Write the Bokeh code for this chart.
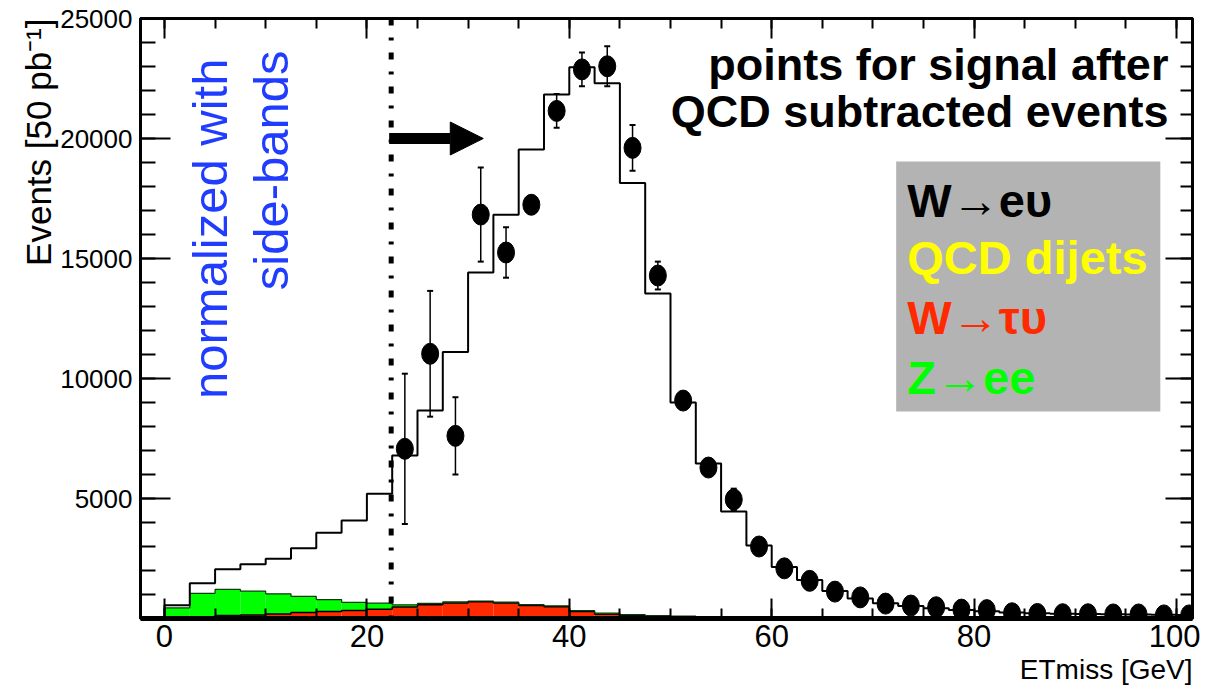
import math
import numpy as np
from bokeh.plotting import figure
from bokeh.models import (Label, Span, Arrow, NormalHead, BoxAnnotation, Whisker, TeeHead,
                          ColumnDataSource, SingleIntervalTicker, LinearAxis, Title)
from bokeh.embed import file_html
from bokeh.resources import INLINE

# ---------------- data ----------------
bin_width = 2.5
bin_edges = np.arange(0, 102.5 + 0.01, bin_width)  # 0 ... 102.5 (41 bins)

# total MC stack (black outline)
total_mc = [550, 1470, 2050, 2260, 2490, 2930, 3570, 4080, 5200, 6790,
            8670, 11100, 14420, 16820, 19540, 21830, 22970, 22300, 18150, 13540,
            9000, 6460, 4460, 3040, 2150, 1600, 1150, 830, 640, 520,
            430, 350, 300, 250, 220, 200, 190, 180, 170, 160, 150]
# W -> tau nu (red, bottom of stack)
w_taunu = [30, 60, 120, 150, 190, 250, 290, 330, 390, 480,
           570, 650, 700, 650, 540, 490, 290, 180, 130, 90,
           70, 50, 35, 25, 15, 10, 8, 6, 5, 4,
           3, 2, 2, 1, 1, 1, 0, 0, 0, 0, 0]
# Z -> ee (green, stacked on red)
z_ee = [410, 990, 1090, 990, 840, 670, 500, 340, 250, 90,
        60, 40, 30, 30, 40, 40, 40, 40, 30, 30,
        25, 20, 20, 15, 15, 10, 10, 8, 6, 5,
        4, 3, 2, 2, 1, 1, 0, 0, 0, 0, 0]

# data points (QCD-subtracted signal)
pt_x = [23.75, 26.25, 28.75, 31.25, 33.75, 36.25, 38.75, 41.25, 43.75, 46.25,
        48.75, 51.25, 53.75, 56.25, 58.75, 61.25, 63.75, 66.25, 68.75, 71.25,
        73.75, 76.25, 78.75, 81.25, 83.75, 86.25, 88.75, 91.25, 93.75, 96.25,
        98.75, 101.25]
pt_y = [7070, 11030, 7610, 16830, 15250, 17240, 21150, 22880, 23010, 19610,
        14290, 9080, 6290, 4960, 3000, 2090, 1570, 1120, 880, 620,
        540, 470, 370, 350, 220, 190, 180, 180, 170, 170,
        130, 130]
pt_err = [3130, 2620, 1610, 1960, 1050, 300, 700, 700, 830, 950,
          580, 250, 200, 450, 150, 120, 100, 80, 60, 50,
          40, 40, 40, 40, 30, 30, 30, 30, 30, 30,
          30, 30]

x_ticks_major = 20
y_ticks_major = 5000
cut_position = 22.4

legend_entries = ["W\u2192e\u03c5", "QCD dijets", "W\u2192\u03c4\u03c5", "Z\u2192ee"]
legend_colors = ["black", "#ffff00", "#ff2a00", "#00ff00"]

RED = "#ff2a00"
GREEN = "#00ff00"
BLUE = "#1f3cff"
FONT = "Liberation Sans"

# ---------------- figure ----------------
p = figure(frame_width=1052, frame_height=600, x_range=(-2.37, 101.58), y_range=(0, 25000),
           output_backend="svg", toolbar_location=None,
           min_border_left=140, min_border_right=8, min_border_top=18, min_border_bottom=60)
p.grid.visible = False
p.outline_line_color = "black"
p.outline_line_width = 3
p.background_fill_color = "white"
p.border_fill_color = "white"

def style_axis(ax, ticker, show_labels, maj_len, min_len, lw, tick_values=()):
    ax.ticker = ticker
    ax.major_tick_in = maj_len
    ax.major_tick_out = 0
    ax.minor_tick_in = min_len
    ax.minor_tick_out = 0
    ax.major_tick_line_width = 2
    ax.minor_tick_line_width = 2
    ax.major_tick_line_color = "black"
    ax.minor_tick_line_color = "black"
    ax.axis_line_width = lw
    ax.axis_line_color = "black"
    if not show_labels:
        ax.major_label_overrides = {v: "" for v in tick_values}
        ax.major_label_text_color = None
        ax.major_label_standoff = 0

xt = SingleIntervalTicker(interval=x_ticks_major, num_minor_ticks=4)
yt = SingleIntervalTicker(interval=y_ticks_major, num_minor_ticks=5)

style_axis(p.xaxis[0], xt, True, 20, 10, 5)
p.xaxis[0].major_label_text_font = FONT
p.xaxis[0].major_label_text_font_size = "31px"
p.xaxis[0].major_label_standoff = 6
p.xaxis[0].major_label_text_color = "black"

style_axis(p.yaxis[0], yt, True, 30, 15, 3)
p.yaxis[0].major_label_text_font = FONT
p.yaxis[0].major_label_text_font_size = "26px"
p.yaxis[0].major_label_standoff = 8
p.yaxis[0].major_label_overrides = {0: ""}
p.yaxis[0].major_label_text_color = "black"

top_ax = LinearAxis()
style_axis(top_ax, SingleIntervalTicker(interval=x_ticks_major, num_minor_ticks=4), False,
           20, 10, 3, tick_values=[-20, 0, 20, 40, 60, 80, 100, 120])
p.add_layout(top_ax, "above")
right_ax = LinearAxis()
style_axis(right_ax, SingleIntervalTicker(interval=y_ticks_major, num_minor_ticks=5), False,
           27, 12, 3, tick_values=[0, 5000, 10000, 15000, 20000, 25000, 30000])
p.add_layout(right_ax, "right")

# axis titles (placed at the far ends, like ROOT)
p.add_layout(Title(text="Events [50 pb\u207b\u00b9]", align="right", text_font=FONT,
                   text_font_size="35px", text_font_style="normal", text_color="black",
                   standoff=0, offset=0), "left")
p.add_layout(Title(text="ETmiss [GeV]", align="right", text_font=FONT,
                   text_font_size="28px", text_font_style="normal", text_color="black",
                   standoff=4, offset=0), "below")

# ---------------- stacked histograms ----------------
lefts = bin_edges[:-1]
rights = bin_edges[1:]
red = np.array(w_taunu, dtype=float)
green_top = red + np.array(z_ee, dtype=float)
p.quad(left=lefts, right=rights, bottom=0, top=red, fill_color=RED, line_color=None)
p.quad(left=lefts, right=rights, bottom=red, top=green_top, fill_color=GREEN, line_color=None)

def step_xy(edges, vals):
    xs = [edges[0]]
    ys = [0]
    for i, v in enumerate(vals):
        xs += [edges[i], edges[i + 1]]
        ys += [v, v]
    return xs, ys

sx, sy = step_xy(bin_edges, red)
p.line(sx, sy, line_color="black", line_width=1.5)
sx, sy = step_xy(bin_edges, green_top)
p.line(sx, sy, line_color="#0a3a0a", line_width=1.2)
sx, sy = step_xy(bin_edges, total_mc)
p.line(sx, sy, line_color="black", line_width=2)

# cut line
p.add_layout(Span(location=cut_position, dimension="height", line_color="black",
                  line_width=5, line_dash="7 12 3 12"))

# arrow
p.add_layout(Arrow(end=NormalHead(size=33, fill_color="black", line_color="black"),
                   x_start=22.2, y_start=20000, x_end=31.5, y_end=20000,
                   line_width=11, line_color="black"))

# data points with error bars
src = ColumnDataSource(dict(x=pt_x, y=pt_y,
                            lo=[a - b for a, b in zip(pt_y, pt_err)],
                            hi=[a + b for a, b in zip(pt_y, pt_err)]))
p.add_layout(Whisker(source=src, base="x", upper="hi", lower="lo",
                     line_color="black", line_width=1.5,
                     upper_head=TeeHead(size=6, line_width=2, line_color="black"),
                     lower_head=TeeHead(size=6, line_width=2, line_color="black")))
p.ellipse(x="x", y="y", source=src, width=17, height=21, width_units="screen",
          height_units="screen", fill_color="black", line_color="black")

# ---------------- texts ----------------
p.add_layout(Label(x=99.2, y=23080, text="points for signal after", text_align="right",
                   text_baseline="middle", text_font=FONT, text_font_style="bold",
                   text_font_size="45px", text_color="black"))
p.add_layout(Label(x=99.2, y=21125, text="QCD subtracted events", text_align="right",
                   text_baseline="middle", text_font=FONT, text_font_style="bold",
                   text_font_size="45px", text_color="black"))

p.add_layout(Label(x=4.5, y=23330, text="normalized with", angle=math.pi / 2,
                   text_align="right", text_baseline="middle", text_font=FONT,
                   text_font_size="49px", text_color=BLUE))
p.add_layout(Label(x=10.5, y=23670, text="side-bands", angle=math.pi / 2,
                   text_align="right", text_baseline="middle", text_font=FONT,
                   text_font_size="49px", text_color=BLUE))

# legend box
p.add_layout(BoxAnnotation(left=72.3, right=98.4, bottom=8625, top=19040,
                           fill_color="#b3b3b3", fill_alpha=1.0, line_color=None))
legend_y = [17420, 15050, 12550, 10050]
for txt, col, yy in zip(legend_entries, legend_colors, legend_y):
    p.add_layout(Label(x=73.4, y=yy, text=txt, text_align="left", text_baseline="middle",
                       text_font=FONT, text_font_style="bold", text_font_size="47px",
                       text_color=col))

open("out.html", "w").write(file_html(p, INLINE))
